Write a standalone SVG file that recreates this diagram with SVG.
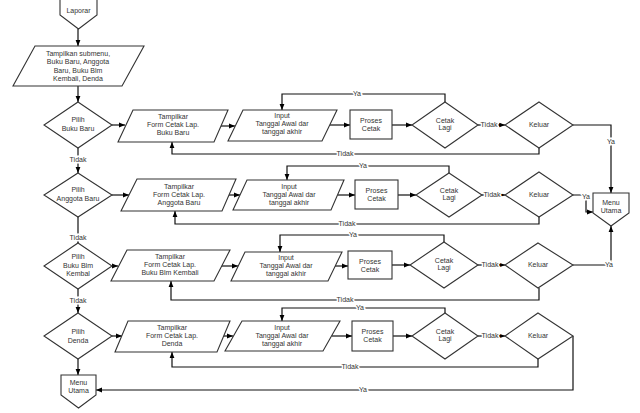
<svg xmlns="http://www.w3.org/2000/svg" width="640" height="413" viewBox="0 0 640 413">
<defs>
<marker id="ah" viewBox="0 0 10 10" refX="10" refY="5" markerWidth="6" markerHeight="6" orient="auto" markerUnits="userSpaceOnUse"><path d="M0,1 L10,5 L0,9 z" fill="#000"/></marker>
<style>
.s{fill:#fff;stroke:#333;stroke-width:1.1}
.t{font-family:"Liberation Sans",Arial,sans-serif;font-size:7px;fill:#333;text-anchor:middle;dominant-baseline:middle}
.c{fill:none;stroke:#111;stroke-width:1.2;marker-end:url(#ah)}
.n{fill:none;stroke:#111;stroke-width:1.2}
.l{font-family:"Liberation Sans",Arial,sans-serif;font-size:7px;fill:#333;text-anchor:middle;dominant-baseline:middle;stroke:#fff;stroke-width:3;paint-order:stroke}
</style>
</defs>
<rect width="640" height="413" fill="#fff"/>
<g id="connectors">
<path class="c" d="M78,29 L78,46"/>
<path class="c" d="M78,86 L78,102"/>
<path class="c" d="M78,148 L78,173"/>
<path class="c" d="M78,217 L78,243"/>
<path class="c" d="M78,289 L78,313"/>
<path class="c" d="M78,359 L78,375"/>
<!-- row 1 -->
<path class="c" d="M112,125 L125,125"/>
<path class="c" d="M221,126 L235,126"/>
<path class="c" d="M330,125 L350,125"/>
<path class="c" d="M392,125 L412,125"/>
<path class="c" d="M478,125 L505,125"/>
<path class="c" d="M573,125 L611,125 L611,193"/>
<path class="c" d="M445,102 L445,94 L282,94 L282,110"/>
<path class="c" d="M539,148 L539,154 L172,154 L172,142"/>
<!-- row 2 -->
<path class="c" d="M112,195 L129,195"/>
<path class="c" d="M229,195 L240,195"/>
<path class="c" d="M338,195 L355,195"/>
<path class="c" d="M398,195 L416,195"/>
<path class="c" d="M482,195 L505,195"/>
<path class="c" d="M573,195 L586,195 L586,212 L593,212"/>
<path class="c" d="M449,173 L449,166 L287,166 L287,180"/>
<path class="c" d="M539,217 L539,224 L175,224 L175,211"/>
<!-- row 3 -->
<path class="c" d="M112,266 L118,266"/>
<path class="c" d="M221,266 L238,266"/>
<path class="c" d="M335,266 L348,266"/>
<path class="c" d="M392,265 L410,265"/>
<path class="c" d="M478,265 L505,265"/>
<path class="c" d="M573,265 L611,265 L611,226"/>
<path class="c" d="M444,242 L444,235 L280,235 L280,252"/>
<path class="c" d="M539,288 L539,300 L171,300 L171,281"/>
<!-- row 4 -->
<path class="c" d="M112,336 L122,336"/>
<path class="c" d="M223,336 L233,336"/>
<path class="c" d="M332,336 L352,336"/>
<path class="c" d="M393,336 L412,336"/>
<path class="c" d="M478,336 L505,336"/>
<path class="c" d="M573,336 L573,390 L96,390"/>
<path class="c" d="M445,313 L445,308 L282,308 L282,321"/>
<path class="c" d="M538,359 L538,367 L172,367 L172,352"/>
<!-- labels -->
<text class="l" x="78" y="160">Tidak</text>
<text class="l" x="78" y="238">Tidak</text>
<text class="l" x="78" y="301">Tidak</text>
<text class="l" x="489" y="125">Tidak</text>
<text class="l" x="611" y="142">Ya</text>
<text class="l" x="357" y="94">Ya</text>
<text class="l" x="345" y="154">Tidak</text>
<text class="l" x="492" y="195">Tidak</text>
<text class="l" x="586" y="197">Ya</text>
<text class="l" x="363" y="166">Ya</text>
<text class="l" x="347" y="224">Tidak</text>
<text class="l" x="490" y="265">Tidak</text>
<text class="l" x="609" y="265">Ya</text>
<text class="l" x="353" y="235">Ya</text>
<text class="l" x="345" y="300">Tidak</text>
<text class="l" x="490" y="336">Tidak</text>
<text class="l" x="363" y="390">Ya</text>
<text class="l" x="360" y="308">Ya</text>
<text class="l" x="350" y="367">Tidak</text>
</g>
<g id="laporan">
<path class="s" d="M60,-2 L97,-2 L97,15 L78.5,29 L60,15 Z"/>
<text class="t" x="78.5" y="11">Laporar</text>
</g>
<g id="submenu">
<polygon class="s" points="35,46 144,46 122,86 13,86"/>
<text class="t" x="78" y="54">Tampilkan submenu,</text>
<text class="t" x="78" y="62">Buku Baru, Anggota</text>
<text class="t" x="78" y="71">Baru, Buku Blm</text>
<text class="t" x="78" y="79">Kembali, Denda</text>
</g>
<g id="pilih1">
<polygon class="s" points="78,102 112,125 78,148 44,125"/>
<text class="t" x="78" y="120">Pilih</text>
<text class="t" x="78" y="129">Buku Baru</text>
</g>
<g id="pilih2">
<polygon class="s" points="78,173 112,195 78,217 44,195"/>
<text class="t" x="78" y="190">Pilih</text>
<text class="t" x="78" y="199">Anggota Baru</text>
</g>
<g id="pilih3">
<polygon class="s" points="78,243 112,266 78,289 44,266"/>
<text class="t" x="78" y="257">Pilih</text>
<text class="t" x="78" y="266">Buku Blm</text>
<text class="t" x="78" y="274">Kembal</text>
</g>
<g id="pilih4">
<polygon class="s" points="78,313 112,336 78,359 44,336"/>
<text class="t" x="78" y="332">Pilih</text>
<text class="t" x="78" y="341">Denda</text>
</g>
<g id="form1">
<polygon class="s" points="133,110 228,110 214,142 118,142"/>
<text class="t" x="173" y="117">Tampilkar</text>
<text class="t" x="173" y="125">Form Cetak Lap.</text>
<text class="t" x="173" y="133">Buku Baru</text>
</g>
<g id="form2">
<polygon class="s" points="137,179 236,179 222,211 121,211"/>
<text class="t" x="179" y="187">Tampilkar</text>
<text class="t" x="179" y="195">Form Cetak Lap.</text>
<text class="t" x="179" y="203">Anggota Baru</text>
</g>
<g id="form3">
<polygon class="s" points="127,250 230,250 214,281 111,281"/>
<text class="t" x="170" y="257">Tampilkar</text>
<text class="t" x="170" y="265">Form Cetak Lap.</text>
<text class="t" x="170" y="273">Buku Blm Kembali</text>
</g>
<g id="form4">
<polygon class="s" points="128,321 230,321 217,352 115,352"/>
<text class="t" x="172" y="328">Tampilkar</text>
<text class="t" x="172" y="336">Form Cetak Lap.</text>
<text class="t" x="172" y="344">Denda</text>
</g>
<g id="input1">
<polygon class="s" points="243,110 337,110 322,141 228,141"/>
<text class="t" x="282" y="116">Input</text>
<text class="t" x="282" y="124">Tanggal Awal dar</text>
<text class="t" x="282" y="132">tanggal akhir</text>
</g>
<g id="input2">
<polygon class="s" points="247,180 344,180 331,210 233,210"/>
<text class="t" x="289" y="187">Input</text>
<text class="t" x="289" y="195">Tanggal Awal dar</text>
<text class="t" x="289" y="203">tanggal akhir</text>
</g>
<g id="input3">
<polygon class="s" points="245,252 342,252 328,281 231,281"/>
<text class="t" x="286" y="258">Input</text>
<text class="t" x="286" y="266">Tanggal Awal dar</text>
<text class="t" x="286" y="274">tanggal akhir</text>
</g>
<g id="input4">
<polygon class="s" points="242,321 340,321 323,351 225,351"/>
<text class="t" x="282" y="328">Input</text>
<text class="t" x="282" y="336">Tanggal Awal dar</text>
<text class="t" x="282" y="344">tanggal akhir</text>
</g>
<g id="proses1">
<rect class="s" x="350" y="110" width="42" height="29"/>
<text class="t" x="371" y="121">Proses</text>
<text class="t" x="371" y="129">Cetak</text>
</g>
<g id="proses2">
<rect class="s" x="355" y="180" width="43" height="29"/>
<text class="t" x="376.5" y="191">Proses</text>
<text class="t" x="376.5" y="199">Cetak</text>
</g>
<g id="proses3">
<rect class="s" x="348" y="251" width="44" height="28"/>
<text class="t" x="370" y="262">Proses</text>
<text class="t" x="370" y="270">Cetak</text>
</g>
<g id="proses4">
<rect class="s" x="352" y="321" width="41" height="30"/>
<text class="t" x="372.5" y="332">Proses</text>
<text class="t" x="372.5" y="340">Cetak</text>
</g>
<g id="cetaklagi1">
<polygon class="s" points="445,102 478,125 445,148 412,125"/>
<text class="t" x="445" y="121">Cetak</text>
<text class="t" x="445" y="128">Lagi</text>
</g>
<g id="cetaklagi2">
<polygon class="s" points="449,173 482,195 449,217 416,195"/>
<text class="t" x="449" y="191">Cetak</text>
<text class="t" x="449" y="198">Lagi</text>
</g>
<g id="cetaklagi3">
<polygon class="s" points="444,242 478,265 444,288 410,265"/>
<text class="t" x="444" y="261">Cetak</text>
<text class="t" x="444" y="268">Lagi</text>
</g>
<g id="cetaklagi4">
<polygon class="s" points="445,313 478,336 445,359 412,336"/>
<text class="t" x="445" y="332">Cetak</text>
<text class="t" x="445" y="339">Lagi</text>
</g>
<g id="keluar1">
<polygon class="s" points="539,102 573,125 539,148 505,125"/>
<text class="t" x="539" y="125">Keluar</text>
</g>
<g id="keluar2">
<polygon class="s" points="539,172 573,195 539,217 505,195"/>
<text class="t" x="539" y="195">Keluar</text>
</g>
<g id="keluar3">
<polygon class="s" points="538,243 573,265 538,288 505,265"/>
<text class="t" x="538" y="265">Keluar</text>
</g>
<g id="keluar4">
<polygon class="s" points="538,313 573,336 538,359 505,336"/>
<text class="t" x="538" y="336">Keluar</text>
</g>
<g id="menuutama1">
<path class="s" d="M593,193 L629,193 L629,213 L611,226 L593,213 Z"/>
<text class="t" x="611" y="203">Menu</text>
<text class="t" x="611" y="211">Utama</text>
</g>
<g id="menuutama2">
<path class="s" d="M61,375 L96,375 L96,395 L78.5,408 L61,395 Z"/>
<text class="t" x="78.5" y="383">Menu</text>
<text class="t" x="78.5" y="391">Utama</text>
</g>
</svg>
